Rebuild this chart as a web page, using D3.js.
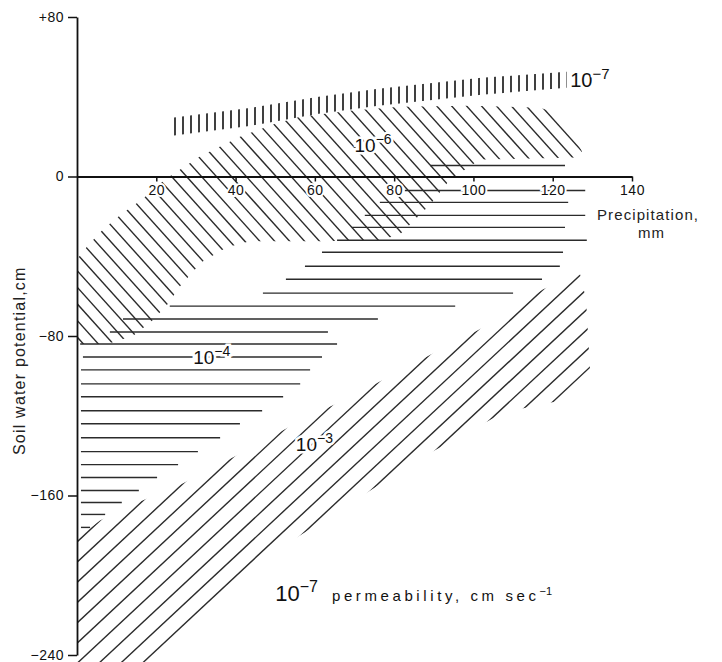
<!DOCTYPE html>
<html>
<head>
<meta charset="utf-8">
<script src="https://cdn.jsdelivr.net/npm/d3@7.9.0/dist/d3.min.js"></script>
<style>
  body { margin: 0; background: #fff; }
  svg { display: block; font-family: "Liberation Sans", Arial, sans-serif; }
</style>
</head>
<body>
<svg id="chart" width="722" height="662"></svg>
<script>
// Tick values for both axes
const xTicks = [20, 40, 60, 80, 100, 120, 140];
const yTicks = [80, 0, -80, -160, -240];

// 10^-7 band (short vertical strokes): precipitation, upper and lower edge
const band7X = [24, 44, 61, 76, 102, 123.5];
const band7Top = [29.5, 34.5, 40, 44, 49.5, 52.5];
const band7Bottom = [20.5, 25.5, 31.5, 35.5, 41, 44.5];

// 10^-6 zone outline (precipitation, potential)
const zone6X = [0, 2.8, 6.6, 11.4, 16.4, 22.2, 31, 41.1, 50, 56.3, 68.9, 81.5, 99.1, 116.8, 122.3, 127.4,
  126.1, 101.7, 94.1, 89.1, 81.5, 76.4, 61.3, 43.6, 37.8, 31.8, 29.8, 26, 22.7, 18.9, 14.1, 7.6, 0];
const zone6Y = [-41.5, -34.5, -26.5, -18.5, -11.5, -1.5, 10, 20, 26.5, 30, 33, 35, 35.5, 34.5, 31, 12.5,
  9.5, 8.5, -1.5, -14, -29, -32, -32.5, -32.5, -35.5, -42.5, -46.5, -55, -64.5, -72.5, -80, -84, -84];

// 10^-4 zone: one horizontal stroke per potential level, start and end precipitation
const lines4Y = [5.5, -7, -13, -19.5, -25.5, -32, -38, -45, -51.5, -58.5, -65, -71.5, -78, -84,
  -90.5, -97, -104, -110.5, -117.5, -124, -131, -138, -144.5, -151, -157.5, -163.5, -169.5, -176];
const lines4Start = [89.1, 82.7, 76.4, 72.6, 69.4, 65.6, 61.8, 57.5, 52.7, 46.9, 23.4, 11.6, 8.3, 0.8,
  1.5, 1, 1, 1, 1, 1, 1, 1, 1, 1, 1, 1, 1, 1];
const lines4End = [123.1, 128.2, 123.9, 128.2, 123.1, 128.6, 122.6, 121.8, 117.3, 110, 95.4, 75.9, 63.3, 65.6,
  61.8, 58.8, 56.3, 52, 46.7, 41.1, 36.1, 30.5, 25.5, 20.2, 15.6, 11.3, 7.1, 3.3];

// 10^-3 zone outline
const zone3X = [0, 5.8, 15.9, 25.2, 41.1, 58.3, 68.1, 81, 92.8, 103.7, 117.6, 126.9, 128.4, 129.4,
  121.8, 114.3, 107.5, 86.5, 68.9, 51.2, 34.1, 18.4, 0];
const zone3Y = [-181.5, -172.5, -163, -155.5, -139, -120.5, -111.5, -98, -85.5, -74.5, -56.5, -49, -61.5, -96.5,
  -112.5, -115.5, -118.5, -141.5, -164, -186.5, -213, -246, -246];

// zone labels: mantissa, exponent, anchor (precipitation, potential)
const zoneLabels = [
  { base: '10', exp: '\u22126', x: 70, y: 12.5, size: 19 },
  { base: '10', exp: '\u22124', x: 29.3, y: -94, size: 19 },
  { base: '10', exp: '\u22123', x: 55.2, y: -137.5, size: 19 },
  { base: '10', exp: '\u22127', x: 124.4, y: 45, size: 20 }
];

const svg = d3.select('#chart');
const defs = svg.append('defs');

const x = d3.scaleLinear().domain([0, 140]).range([77, 632]);
const y = d3.scaleLinear().domain([-240, 80]).range([655, 17]);

const ink = '#2b2b2b';

// fill a polygon (pixel points) with parallel strokes
function hatch(id, pts, angle, gap, anchor, width) {
  const a = angle * Math.PI / 180;
  const d = [Math.cos(a), Math.sin(a)];
  const n = [-Math.sin(a), Math.cos(a)];
  const x0 = d3.min(pts, p => p[0]), x1 = d3.max(pts, p => p[0]);
  const y0 = d3.min(pts, p => p[1]), y1 = d3.max(pts, p => p[1]);
  const corners = [[x0, y0], [x1, y0], [x0, y1], [x1, y1]];
  const proj = corners.map(c => (c[0] - anchor[0]) * n[0] + (c[1] - anchor[1]) * n[1]);
  const k0 = Math.floor(d3.min(proj) / gap), k1 = Math.ceil(d3.max(proj) / gap);
  const L = Math.hypot(x1 - x0, y1 - y0) + Math.hypot(anchor[0] - x0, anchor[1] - y0);

  defs.append('clipPath').attr('id', id)
    .append('path').attr('d', 'M' + pts.join('L') + 'Z');

  svg.append('g').attr('clip-path', `url(#${id})`)
    .selectAll('line')
    .data(d3.range(k0, k1 + 1))
    .join('line')
    .attr('x1', k => anchor[0] + n[0] * k * gap - d[0] * L)
    .attr('y1', k => anchor[1] + n[1] * k * gap - d[1] * L)
    .attr('x2', k => anchor[0] + n[0] * k * gap + d[0] * L)
    .attr('y2', k => anchor[1] + n[1] * k * gap + d[1] * L)
    .attr('stroke', ink)
    .attr('stroke-width', width);
}

// 10^-7 band
const band7Pts = band7X.map((v, i) => [x(v), y(band7Top[i])])
  .concat(band7X.map((v, i) => [x(v), y(band7Bottom[i])]).reverse());
hatch('clip7', band7Pts, 90, 8, [175, 120], 1.8);

// 10^-6 zone
const zone6Pts = zone6X.map((v, i) => [x(v), y(zone6Y[i])]);
hatch('clip6', zone6Pts, 48, 11.1, [187, 177], 1.4);

// 10^-3 zone
const zone3Pts = zone3X.map((v, i) => [x(v), y(zone3Y[i])]);
hatch('clip3', zone3Pts, -43, 14.8, [77, 542], 1.4);

// 10^-4 zone
svg.append('g')
  .selectAll('line')
  .data(lines4Y)
  .join('line')
  .attr('x1', (v, i) => x(lines4Start[i]))
  .attr('x2', (v, i) => x(lines4End[i]))
  .attr('y1', v => y(v))
  .attr('y2', v => y(v))
  .attr('stroke', ink)
  .attr('stroke-width', 1.4);

// axes
const fmtY = v => v > 0 ? '+' + v : v < 0 ? '\u2212' + (-v) : '0';

const yAxis = svg.append('g')
  .attr('transform', `translate(${x(0)},0)`)
  .call(d3.axisLeft(y).tickValues(yTicks).tickFormat(fmtY).tickSize(9).tickSizeOuter(0).tickPadding(4));

const xAxis = svg.append('g')
  .attr('transform', `translate(0,${y(0)})`)
  .call(d3.axisBottom(x).tickValues(xTicks).tickSize(5).tickSizeOuter(0).tickPadding(4));

[yAxis, xAxis].forEach(g => {
  g.select('.domain').attr('stroke', '#111').attr('stroke-width', 1.8);
  g.selectAll('.tick line').attr('stroke', '#111').attr('stroke-width', 1.5);
  g.selectAll('.tick text')
    .attr('fill', '#111')
    .style('font-size', '14px')
    .style('letter-spacing', '0.5px')
    .attr('stroke', '#fff')
    .attr('stroke-width', 4)
    .attr('paint-order', 'stroke');
});

// zone labels
zoneLabels.forEach(d => {
  const t = svg.append('text')
    .attr('x', x(d.x))
    .attr('y', y(d.y))
    .attr('fill', '#111')
    .attr('stroke', '#fff')
    .attr('stroke-width', 5)
    .attr('paint-order', 'stroke')
    .style('font-size', d.size + 'px');
  t.append('tspan').text(d.base);
  t.append('tspan').attr('dy', -8).style('font-size', (d.size - 5) + 'px').text(d.exp);
});

// axis titles
svg.append('text')
  .attr('transform', `translate(25,455) rotate(-90)`)
  .attr('fill', '#222')
  .style('font-size', '16px')
  .style('letter-spacing', '1.2px')
  .text('Soil water potential,cm');

svg.append('text')
  .attr('x', 597).attr('y', 220)
  .attr('fill', '#222')
  .style('font-size', '15px')
  .style('letter-spacing', '1.1px')
  .text('Precipitation,');

svg.append('text')
  .attr('x', 638).attr('y', 238)
  .attr('fill', '#222')
  .style('font-size', '15px')
  .style('letter-spacing', '1.1px')
  .text('mm');

// bottom caption
const cap = svg.append('text')
  .attr('x', x(50)).attr('y', y(-213))
  .attr('fill', '#111');
cap.append('tspan').style('font-size', '22px').text('10');
cap.append('tspan').attr('dy', -9).style('font-size', '16px').text('\u22127');
cap.append('tspan').attr('dy', 9).attr('dx', 14).style('font-size', '15px').style('letter-spacing', '3.6px')
  .text('permeability, cm sec');
cap.append('tspan').attr('dy', -6).style('font-size', '11px').text('\u22121');
</script>
</body>
</html>
